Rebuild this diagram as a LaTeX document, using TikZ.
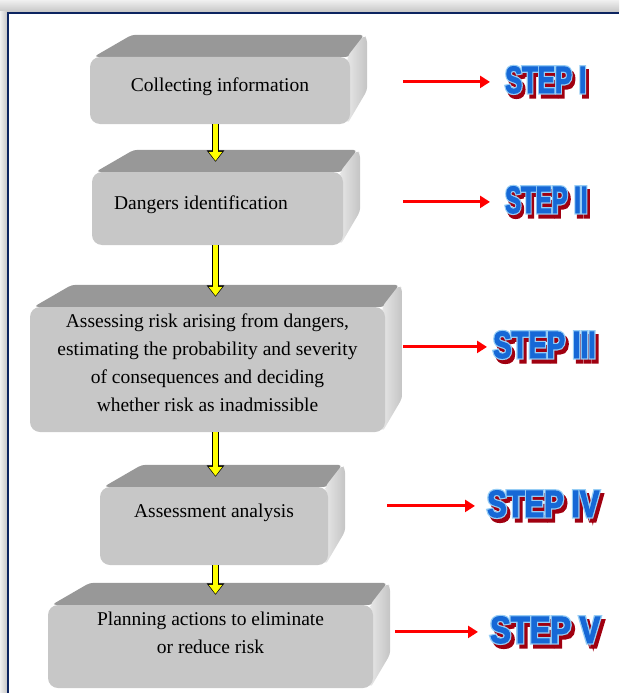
\documentclass[tikz,border=0pt]{standalone}
\usepackage{fontspec}
\setmainfont{Liberation Serif}
\newfontfamily\stepfont{Liberation Sans Bold}[FakeStretch=0.74, FakeBold=2.5]
\newfontfamily\stepglowfont{Liberation Sans Bold}[FakeStretch=0.74, FakeBold=9]
\usetikzlibrary{positioning, arrows.meta, backgrounds}
\definecolor{boxfront}{RGB}{199,199,199}
\definecolor{boxtop}{RGB}{152,152,152}
\definecolor{boxside}{RGB}{230,230,230}
\definecolor{boxsidedark}{RGB}{196,196,196}
\definecolor{framenavy}{RGB}{12,36,96}
\definecolor{stepblue}{RGB}{22,104,214}
\definecolor{stepglow}{RGB}{150,205,245}
\definecolor{stepred}{RGB}{160,0,16}
\definecolor{flowyellow}{RGB}{255,255,0}
\tikzstyle{cbox} = [rectangle, rounded corners=10pt, fill=boxfront, align=center, inner sep=0pt, font=\fontsize{19.5}{28}\selectfont]
\tikzstyle{steplabel} = [anchor=base west, inner sep=0pt, font=\fontsize{38}{38}\selectfont]
\tikzstyle{redarrow} = [draw=red, line width=3pt, -{Triangle[length=10pt, width=12pt]}]
\tikzstyle{flow} = [draw=flowyellow, line width=5pt, shorten >=11pt, -{Triangle[length=9pt, width=13pt]}, preaction={draw=black, line width=7pt, shorten >=10pt, -{Triangle[length=11.5pt, width=17pt]}}]
% top and right faces behind a box
\newcommand{\bevel}[1]{%
  \fill [boxtop, rounded corners=4pt] ([xshift=4pt]#1.north west) -- ([xshift=42pt,yshift=22pt]#1.north west) -- ([xshift=14pt,yshift=22pt]#1.north east) -- (#1.north east) -- cycle;
  \shade [left color=boxside, right color=boxsidedark, rounded corners=4pt] ([xshift=-3pt]#1.north east) -- ([xshift=14pt,yshift=22pt]#1.north east) -- ([xshift=17pt,yshift=17pt]#1.north east) -- ([xshift=17pt,yshift=34pt]#1.south east) -- ([xshift=-3pt]#1.south east) -- cycle;}
% word art for the step labels
\newcommand{\stepword}[2][1]{\scalebox{#1}[1]{%
  \rlap{\kern3pt\raisebox{-4pt}{\stepglowfont\color{stepred}#2}}%
  \rlap{\stepglowfont\color{stepglow}#2}%
  {\stepfont\color{stepblue}#2}}}

\begin{document}
\begin{tikzpicture}[x=1pt, y=-1pt, node distance=120pt]
		\useasboundingbox (0,0) rectangle (619,693);
		% frame
		\shade [top color=gray!12, bottom color=gray!45] (0,0) rectangle (619,12);
		\shade [left color=gray!12, right color=gray!45] (0,12) rectangle (7,693);
		\draw [framenavy, line width=2.5pt] (8.2,693) -- (8.2,13.2) -- (619,13.2);
		\coordinate (axis) at (215.5,0);
		% boxes
		\node (c1) [cbox, minimum width=260pt, minimum height=67pt, text depth=11pt] at (220,90.5) {Collecting information};
		\node (c2) [cbox, below of=c1, xshift=-2.5pt, yshift=2pt, minimum width=251pt, minimum height=73pt, text depth=11pt] {Dangers identification\kern33pt};
		\node (c3) [cbox, below of=c2, xshift=-10pt, yshift=-41pt, minimum width=355pt, minimum height=125pt, text depth=14pt] {Assessing risk arising from dangers,\\ estimating the probability and severity\\ of consequences and deciding\\ whether risk as inadmissible};
		\node (c4) [cbox, below of=c3, xshift=6.5pt, yshift=-36.5pt, minimum width=228pt, minimum height=78pt, text depth=30pt] {Assessment analysis};
		\node (c5) [cbox, below of=c4, xshift=-3.5pt, yshift=-0.5pt, minimum width=325pt, minimum height=83pt, text depth=28pt] {Planning actions to eliminate\\ or reduce risk};
		\begin{scope}[on background layer]
			\bevel{c1}
			\bevel{c2}
			\bevel{c3}
			\bevel{c4}
			\bevel{c5}
		\end{scope}
		\draw [flow] (c1.south -| axis) -- (c2.north -| axis);
		\draw [flow] (c2.south -| axis) -- (c3.north -| axis);
		\draw [flow] (c3.south -| axis) -- (c4.north -| axis);
		\draw [flow] (c4.south -| axis) -- (c5.north -| axis);
		% steps
		\node (s1) [right of=c1, steplabel, xshift=165pt, yshift=-2.5pt] {\stepword[0.91]{STEP I}};
		\node (s2) [right of=c2, steplabel, xshift=167.5pt, yshift=-4.5pt] {\stepword[0.85]{STEP II}};
		\node (s3) [right of=c3, steplabel, xshift=165.5pt, yshift=11.5pt] {\stepword[0.98]{STEP III}};
		\node (s4) [right of=c4, steplabel, xshift=153pt, yshift=9pt] {\stepword[1.04]{STEP IV}};
		\node (s5) [right of=c5, steplabel, xshift=159.5pt, yshift=3.5pt] {\stepword[1.1]{STEP V}};
		\draw [redarrow, shorten <=53pt, shorten >=15pt] (c1.east |- s1.west) -- (s1.west);
		\draw [redarrow, shorten <=60pt, shorten >=15pt] (c2.east |- s2.west) -- (s2.west);
		\draw [redarrow, shorten <=18pt, shorten >=6pt] (c3.east |- s3.west) -- (s3.west);
		\draw [redarrow, shorten <=59pt, shorten >=12pt] (c4.east |- s4.west) -- (s4.west);
		\draw [redarrow, shorten <=22pt, shorten >=12pt] (c5.east |- s5.west) -- (s5.west);
\end{tikzpicture}
\end{document}
